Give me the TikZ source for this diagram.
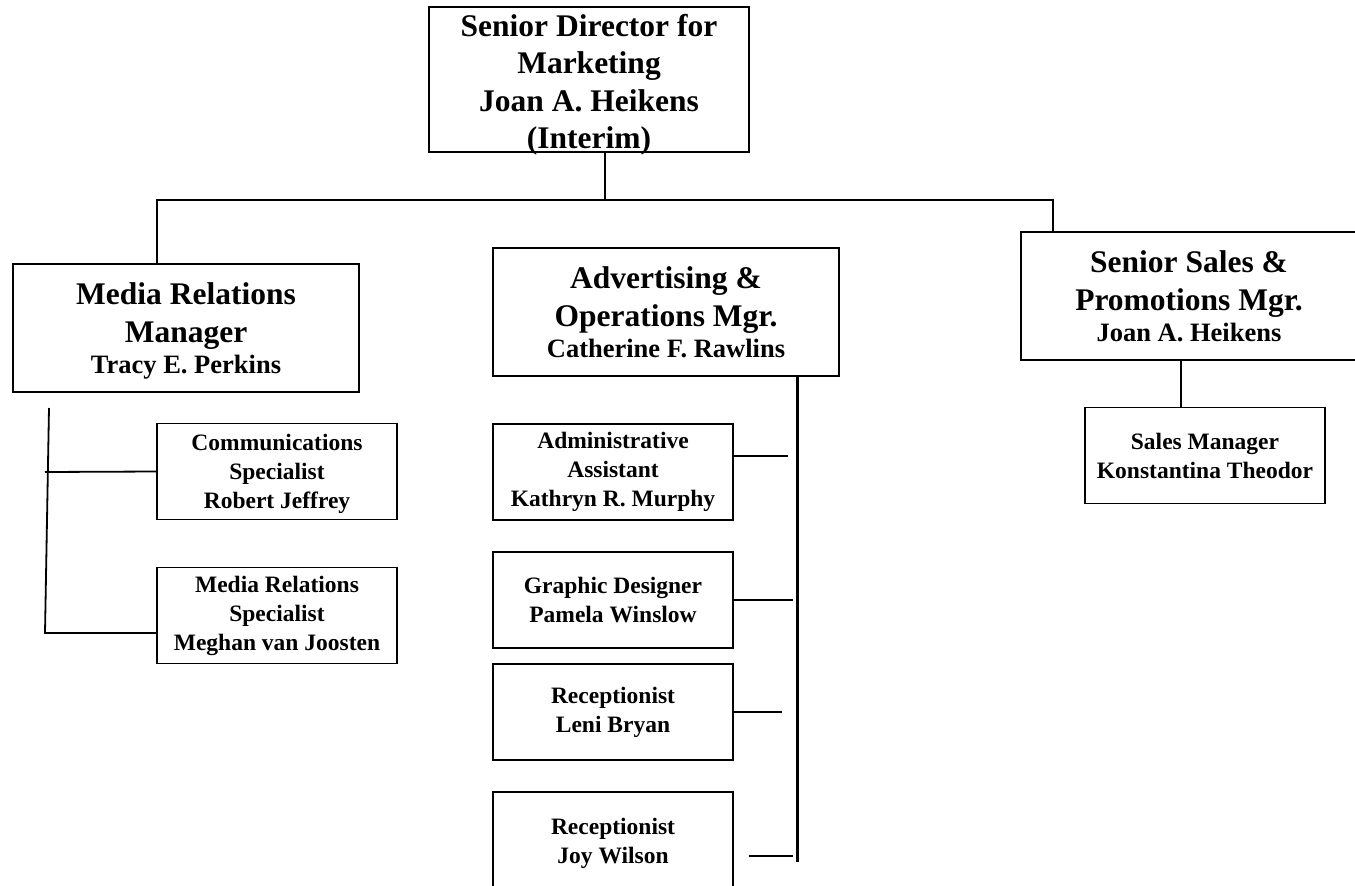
\documentclass[tikz,border=0pt]{standalone}
\usepackage{fontspec}
\setmainfont{Liberation Serif}
\newcommand{\pname}[1]{\fontsize{26.5}{32}\selectfont #1}
\begin{document}
\begin{tikzpicture}[x=1pt, y=-1pt,
    box/.style={draw, line width=1.8pt, inner sep=0pt, align=center},
    head/.style={box, minimum width=346pt, minimum height=128pt, font=\bfseries\fontsize{31.5}{38}\selectfont},
    staff/.style={box, minimum width=240pt, minimum height=96pt, font=\bfseries\fontsize{23.5}{29}\selectfont},
    link/.style={line width=2.2pt},
    thin/.style={line width=1.8pt}]
	\useasboundingbox (0,0) rectangle (1355,886);
	% kotak paling atas
	\node[box, minimum width=320pt, minimum height=145pt, text depth=0pt, font=\bfseries\fontsize{31.5}{37.5}\selectfont] (dir) at (589,79.5) {\rule{0pt}{26pt}Senior Director for\\Marketing\\Joan A. Heikens\\(Interim)};
	
	% tiga manajer
	\node[head] (mrm) at (186,328) {\rule{0pt}{27pt}Media Relations\\Manager\\[-7pt]\pname{Tracy E. Perkins}};
	\node[head] (adv) at (666,312) {Advertising \&\\Operations Mgr.\\[-7pt]\pname{Catherine F. Rawlins}};
	\node[head, minimum width=336pt] (ssp) at (1189,296) {Senior Sales \&\\Promotions Mgr.\\[-7pt]\pname{Joan A. Heikens}};
	
	% staf
	\node[staff] (comm) at (277,471.5) {\rule{0pt}{22pt}Communications\\Specialist\\Robert Jeffrey};
	\node[staff] (mrs) at (277,615.5) {Media Relations\\Specialist\\Meghan van Joosten};
	\node[staff] (admin) at (613,472) {Administrative\\Assistant\\Kathryn R. Murphy};
	\node[staff] (graphic) at (613,600) {Graphic Designer\\Pamela Winslow};
	\node[staff] (leni) at (613,712) {Receptionist\\Leni Bryan};
	\node[staff] (joy) at (613,840) {\rule{0pt}{24pt}Receptionist\\Joy Wilson};
	\node[staff] (sales) at (1205,455.5) {Sales Manager\\Konstantina Theodor};
	
	% titik bantu
	\coordinate (busL) at (157,200);
	\coordinate (busR) at (1053,200);
	\coordinate (dirdrop) at (605,200);
	\coordinate (mtop) at (49,408);
	\coordinate (mmid) at (45,472);
	\coordinate (mbot) at (45,633);
	\coordinate (spine) at (797,862);
	\coordinate (a1) at (788,456);
	\coordinate (a2) at (793,600);
	\coordinate (a3) at (782,712);
	\coordinate (a4s) at (749,856);
	\coordinate (a4e) at (793,856);
	\coordinate (s1) at (1181,360);
	
	% garis penghubung
	\draw[link] (dirdrop |- dir.south) -- (dirdrop);
	\draw[link] (busL |- mrm.north) -- (busL) -- (busR) -- (busR |- ssp.north);
	\draw[thin] (mtop) -- (mbot) -- (mbot -| mrs.west);
	\draw[thin] (mmid) -- (comm.west);
	\draw[line width=3pt] (spine |- adv.south) -- (spine);
	\draw[thin] (a1 -| admin.east) -- (a1);
	\draw[line width=2.6pt] (graphic.east) -- (a2);
	\draw[thin] (leni.east) -- (a3);
	\draw[link] (a4s) -- (a4e);
	\draw[link] (s1) -- (s1 |- sales.north);
	
\end{tikzpicture}
\end{document}
